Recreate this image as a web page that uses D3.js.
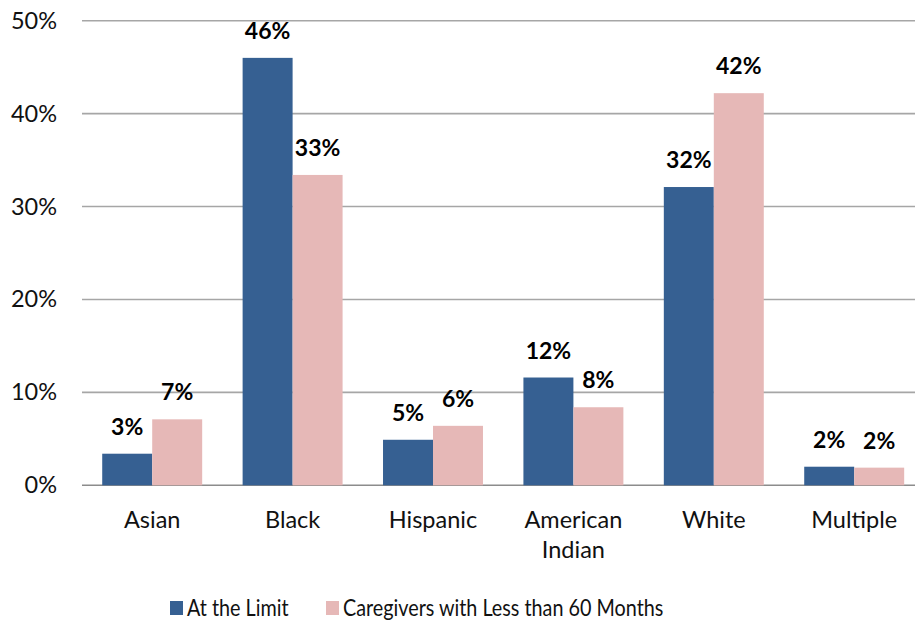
<!DOCTYPE html>
<html><head><meta charset="utf-8">
<script src="https://cdn.jsdelivr.net/npm/d3@7"></script>
<style>
html,body{margin:0;padding:0;background:#fff;}
svg{display:block;font-family:"Lato",sans-serif;}
</style></head>
<body>
<svg id="chart" width="915" height="620"></svg>
<script>
const categories = ["Asian","Black","Hispanic","American Indian","White","Multiple"];
const seriesNames = ["At the Limit","Caregivers with Less than 60 Months"];
const atLimit = [3.4, 46.0, 4.9, 11.6, 32.1, 2.0];
const lessThan60 = [7.1, 33.4, 6.4, 8.4, 42.2, 1.9];
const yTicks = [0, 10, 20, 30, 40, 50];
const colors = ["#366092", "#e6b8b7"];

const svg = d3.select("#chart");
const x0 = d3.scaleBand().domain(categories).range([82, 924.4]).paddingInner(0.288).paddingOuter(0.144);
const x1 = d3.scaleBand().domain([0,1]).range([0, x0.bandwidth()]);
const y = d3.scaleLinear().domain([0, 50]).range([485.3, 20.7]);

// gridlines
svg.append("g").selectAll("line").data(yTicks).join("line")
  .attr("x1", 82).attr("x2", 915)
  .attr("y1", d => y(d)).attr("y2", d => y(d))
  .attr("stroke", d => d === 0 ? "#8c8c8c" : "#a6a6a6").attr("stroke-width", 1.6);

// y tick labels
svg.append("g").selectAll("text").data(yTicks).join("text")
  .attr("x", 57).attr("y", d => y(d) + 8)
  .attr("text-anchor", "end").attr("font-size", 23.5).attr("fill", "#111")
  .text(d => d + "%");

const data = categories.map((c, i) => ({c, vals: [atLimit[i], lessThan60[i]]}));
const fmt = v => Math.round(v) + "%";

const g = svg.append("g").selectAll("g").data(data).join("g")
  .attr("transform", d => `translate(${x0(d.c)},0)`);
g.selectAll("rect").data(d => d.vals).join("rect")
  .attr("x", (v, i) => x1(i)).attr("width", x1.bandwidth())
  .attr("y", v => y(v)).attr("height", v => y(0) - y(v))
  .attr("fill", (v, i) => colors[i]);
g.selectAll("text").data(d => d.vals).join("text")
  .attr("x", (v, i) => x1(i) + x1.bandwidth() / 2)
  .attr("y", v => y(v) - 19)
  .attr("text-anchor", "middle").attr("font-size", 23).attr("font-weight", "bold").attr("fill", "#000")
  .text(fmt);

// category labels
const cl = svg.append("g").selectAll("text").data(categories).join("text")
  .attr("x", d => x0(d) + x0.bandwidth() / 2).attr("y", 528)
  .attr("text-anchor", "middle").attr("font-size", 23.5).attr("fill", "#111");
cl.each(function(d) {
  const words = d.split(" ");
  const t = d3.select(this);
  if (d.length > 10) {
    words.forEach((w, k) => t.append("tspan").attr("x", x0(d) + x0.bandwidth() / 2).attr("dy", k ? 30 : 0).text(w));
  } else t.text(d);
});

// legend
const legX = [170, 326];
const leg = svg.append("g").selectAll("g").data(seriesNames).join("g")
  .attr("transform", (d, i) => `translate(${legX[i]},0)`);
leg.append("rect").attr("x", 0).attr("y", 601).attr("width", 13).attr("height", 14)
  .attr("fill", (d, i) => colors[i]);
leg.append("text").attr("transform", "translate(17,616) scale(0.86,1)")
  .attr("font-size", 23).attr("fill", "#111").text(d => d);
</script>
</body></html>
